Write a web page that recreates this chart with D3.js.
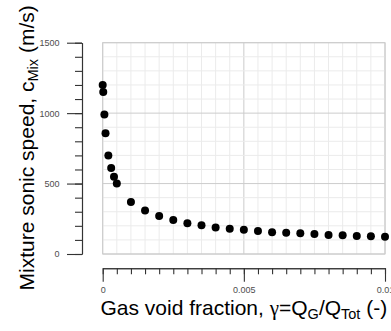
<!DOCTYPE html>
<html>
<head>
<meta charset="utf-8">
<script src="https://cdn.jsdelivr.net/npm/d3@7"></script>
<style>
  html, body { margin: 0; padding: 0; background: #fff; }
  svg { display: block; font-family: "Liberation Sans", Arial, sans-serif; }
</style>
</head>
<body>
<svg id="chart" width="391" height="331"></svg>
<script>
// Gas void fraction (-) and mixture sonic speed (m/s)
const voidFraction = [0, 0.00002, 0.00006, 0.0001, 0.0002, 0.0003, 0.0004, 0.0005,
  0.001, 0.0015, 0.002, 0.0025, 0.003, 0.0035, 0.004, 0.0045, 0.005, 0.0055,
  0.006, 0.0065, 0.007, 0.0075, 0.008, 0.0085, 0.009, 0.0095, 0.01];
const sonicSpeed = [1200, 1150, 990, 858, 700, 610, 548, 500,
  369, 308, 270, 241, 218, 204, 189, 180, 173, 163,
  154, 151, 147, 142, 135, 133, 128, 126, 123];

const xMajorTicks = [0, 0.005, 0.01];
const xTickLabels = ["0", "0.005", "0.01"];
const yMajorTicks = [0, 500, 1000, 1500];
const yTickLabels = ["0", "500", "1000", "1500"];

const svg = d3.select("#chart");
const panel = { left: 102.7, right: 385, top: 42.7, bottom: 254 };

const x = d3.scaleLinear().domain([0, 0.01]).range([panel.left, panel.right]);
const y = d3.scaleLinear().domain([0, 1500]).range([panel.bottom, panel.top]);

const xMinor = d3.range(0, 21).map(i => i * 0.0005);
const yMinor = d3.range(0, 16).map(i => i * 100);

// grid
const grid = svg.append("g");
grid.selectAll("line.vx").data(xMinor).join("line")
  .attr("x1", d => x(d)).attr("x2", d => x(d))
  .attr("y1", panel.top).attr("y2", panel.bottom)
  .attr("stroke", d => xMajorTicks.some(t => Math.abs(t - d) < 1e-9) ? "#cccccc" : "#ebebeb")
  .attr("stroke-width", 1);
grid.selectAll("line.hy").data(yMinor).join("line")
  .attr("y1", d => y(d)).attr("y2", d => y(d))
  .attr("x1", panel.left).attr("x2", panel.right)
  .attr("stroke", d => yMajorTicks.includes(d) ? "#cccccc" : "#ebebeb")
  .attr("stroke-width", 1);
grid.append("rect")
  .attr("x", panel.left).attr("y", panel.top)
  .attr("width", panel.right - panel.left).attr("height", panel.bottom - panel.top)
  .attr("fill", "none").attr("stroke", "#cccccc").attr("stroke-width", 1);

// y axis (detached to the left of the panel)
const yAxisX = 82;
const yMinorAxis = d3.axisLeft(y).tickValues(yMinor).tickSize(7).tickSizeOuter(0).tickFormat("");
const yMajorAxis = d3.axisLeft(y).tickValues(yMajorTicks).tickSize(15).tickSizeOuter(0)
  .tickPadding(7.5).tickFormat((d, i) => yTickLabels[i]);
svg.append("g").attr("transform", `translate(${yAxisX},0)`).call(yMinorAxis);
svg.append("g").attr("transform", `translate(${yAxisX},0)`).call(yMajorAxis);

// x axis (detached below the panel)
const xAxisY = 268.3;
const xMinorAxis = d3.axisBottom(x).tickValues(xMinor).tickSize(6).tickSizeOuter(0).tickFormat("");
const xMajorAxis = d3.axisBottom(x).tickValues(xMajorTicks).tickSize(13.4).tickSizeOuter(0)
  .tickPadding(4.9).tickFormat((d, i) => xTickLabels[i]);
svg.append("g").attr("transform", `translate(0,${xAxisY})`).call(xMinorAxis);
svg.append("g").attr("transform", `translate(0,${xAxisY})`).call(xMajorAxis);

svg.selectAll(".domain").attr("stroke", "#333333").attr("stroke-width", 1.1);
svg.selectAll(".tick line").attr("stroke", "#333333").attr("stroke-width", 1.1);
svg.selectAll(".tick text").attr("fill", "#4d4d4d").attr("font-size", 9)
  .attr("font-family", "'Liberation Sans', Arial, sans-serif");

// points
svg.append("g").selectAll("circle").data(voidFraction).join("circle")
  .attr("cx", d => x(d))
  .attr("cy", (d, i) => y(sonicSpeed[i]))
  .attr("r", 4)
  .attr("fill", "#000");

// axis titles
const xt = svg.append("text")
  .attr("x", (panel.left + panel.right) / 2).attr("y", 315)
  .attr("text-anchor", "middle").attr("font-size", 21).attr("fill", "#000");
xt.append("tspan").text("Gas void fraction, ");
xt.append("tspan").attr("font-family", "'Liberation Serif', serif").text("\u03b3");
xt.append("tspan").text("=Q");
xt.append("tspan").attr("font-size", 14.5).attr("dy", 4).text("G");
xt.append("tspan").attr("dy", -4).text("/Q");
xt.append("tspan").attr("font-size", 14.5).attr("dy", 4).text("Tot");
xt.append("tspan").attr("dy", -4).text(" (-)");

const yt = svg.append("text")
  .attr("transform", `translate(33.5,${(panel.top + panel.bottom) / 2 - 0.5}) rotate(-90)`)
  .attr("text-anchor", "middle").attr("font-size", 21).attr("fill", "#000");
yt.append("tspan").text("Mixture sonic speed, c");
yt.append("tspan").attr("font-size", 14.5).attr("dy", 4).text("Mix");
yt.append("tspan").attr("dy", -4).text(" (m/s)");
</script>
</body>
</html>
